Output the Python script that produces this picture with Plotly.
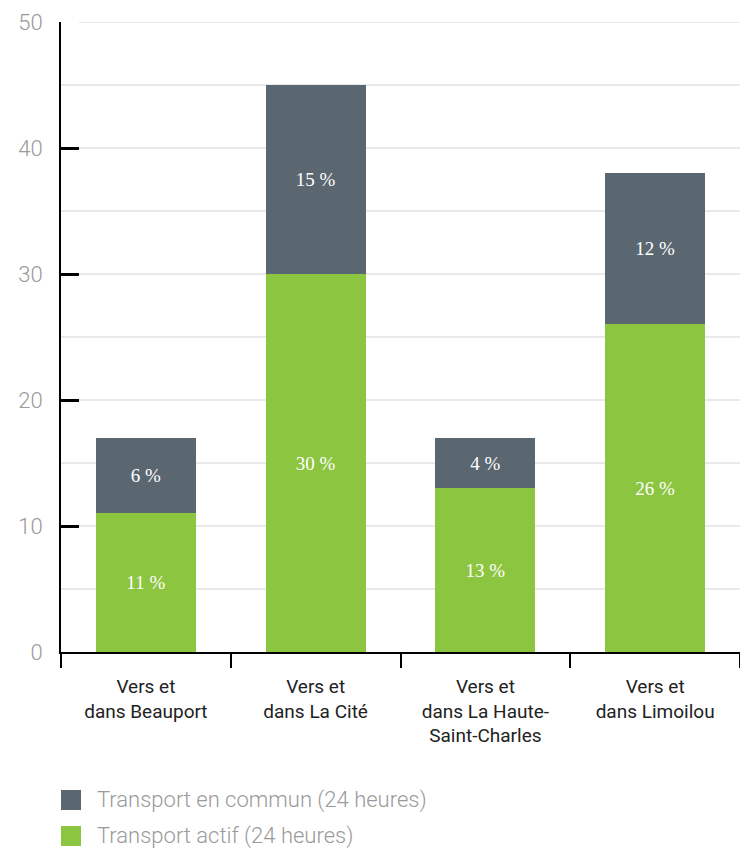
import plotly.graph_objects as go

categories = ["Vers et<br>dans Beauport", "Vers et<br>dans La Cité",
              "Vers et<br>dans La Haute-<br>Saint-Charles", "Vers et<br>dans Limoilou"]
actif = [11, 30, 13, 26]
commun = [6, 15, 4, 12]
name_actif = "Transport actif (24 heures)"
name_commun = "Transport en commun (24 heures)"
y_ticks = [0, 10, 20, 30, 40, 50]
y_grid = [5, 10, 15, 20, 25, 30, 35, 40, 45, 50]

green = "#8cc540"
slate = "#5a6770"

fig = go.Figure()
fig.add_bar(x=categories, y=actif, name=name_actif, marker=dict(color=green, line=dict(width=0)),
            text=[f"{v} %" for v in actif], textposition="inside", insidetextanchor="middle",
            textfont=dict(family="Liberation Serif", size=19, color="white"), width=0.59)
fig.add_bar(x=categories, y=commun, name=name_commun, marker=dict(color=slate, line=dict(width=0)),
            text=[f"{v} %" for v in commun], textposition="inside", insidetextanchor="middle",
            textfont=dict(family="Liberation Serif", size=19, color="white"), width=0.59)

# plot area: x 61..740 px, y 22..652 px
def px_x(p):
    return (p - 61) / 679.0

def px_y(p):
    return (652 - p) / 630.0

tick_end = px_x(79)

# horizontal grid lines (below the bars); at tick values they start after the tick mark
for g in y_grid:
    start = tick_end if g in y_ticks else 0
    fig.add_shape(type="line", xref="paper", yref="y", x0=start, x1=1, y0=g, y1=g,
                  line=dict(color="#d3d3d3", width=1.2), layer="below")

# manual legend
legend_items = [(name_commun, slate, 800), (name_actif, green, 836)]
for label, col, cy in legend_items:
    fig.add_shape(type="rect", xref="paper", yref="paper",
                  x0=px_x(61), x1=px_x(81), y0=px_y(cy + 10), y1=px_y(cy - 10),
                  fillcolor=col, line=dict(width=0))
    fig.add_annotation(xref="paper", yref="paper", x=px_x(95), y=px_y(cy),
                       xanchor="left", yanchor="middle", showarrow=False, text=label,
                       font=dict(family="Roboto", weight=300, size=22, color="#9a9a9a"))

fig.update_layout(
    width=740, height=853,
    margin=dict(l=61, r=0, t=22, b=201),
    barmode="stack",
    plot_bgcolor="white", paper_bgcolor="white",
    showlegend=False,
    uniformtext=dict(minsize=19, mode="show"),
)
fig.update_xaxes(
    showline=True, linecolor="black", linewidth=2,
    ticks="outside", ticklen=14, tickwidth=2, tickcolor="black",
    tickson="boundaries",
    tickfont=dict(family="Roboto", size=19, color="#222"),
    ticklabelstandoff=16,
    showgrid=False,
)
fig.update_yaxes(
    range=[0, 50], tickvals=y_ticks,
    showline=True, linecolor="black", linewidth=2,
    ticks="inside", ticklen=18, tickwidth=2.5, tickcolor="#000000",
    tickfont=dict(family="Roboto", weight=300, size=22, color="#9a9a9a"),
    ticklabelstandoff=12,
    showgrid=False,
    zeroline=False,
)
fig.write_html("out.html")
